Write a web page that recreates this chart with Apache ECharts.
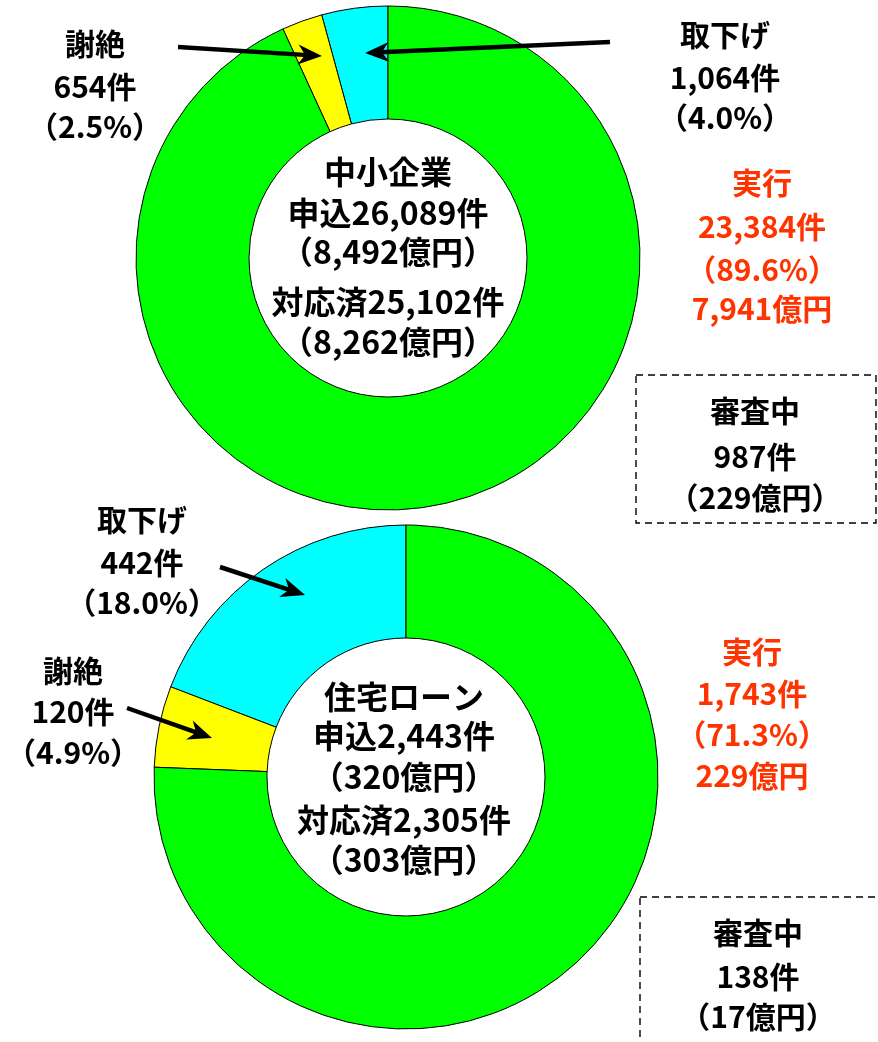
<!DOCTYPE html>
<html>
<head>
<meta charset="utf-8">
<script src="https://cdn.jsdelivr.net/npm/echarts@6/dist/echarts.min.js"></script>
<style>
html,body{margin:0;padding:0;background:#fff;}
#chart{width:878px;height:1042px;}
</style>
</head>
<body>
<div id="chart"></div>
<script>
// ---- data ----
const categories = ['取下げ', '謝絶', '実行'];
const colors = ['#00FFFF', '#FFFF00', '#00FF00'];

const smeTitle = '中小企業';
const smeCounts = [1064, 654, 23384];
const smePct = [4.0, 2.5, 89.6];
const smeApplied = 26089, smeAppliedAmt = 8492;
const smeDone = 25102, smeDoneAmt = 8262;
const smeExecAmt = 7941;
const smeReview = 987, smeReviewAmt = 229;

const homeTitle = '住宅ローン';
const homeCounts = [442, 120, 1743];
const homePct = [18.0, 4.9, 71.3];
const homeApplied = 2443, homeAppliedAmt = 320;
const homeDone = 2305, homeDoneAmt = 303;
const homeExecAmt = 229;
const homeReview = 138, homeReviewAmt = 17;

// ---- helpers ----
const fmt = v => v.toLocaleString('en-US');
const FONT = '"Noto Sans CJK JP", "Noto Sans", sans-serif';
const RED = '#FF3300';

function textLines(lines, cx, ys, color, size) {
  return lines.map((t, i) => ({
    type: 'text', x: cx, y: ys[i], silent: true,
    style: { text: t, fill: color, font: 'bold ' + size + 'px ' + FONT, textAlign: 'center', textVerticalAlign: 'middle' }
  }));
}

function arrow(x1, y1, x2, y2) {
  const dx = x2 - x1, dy = y2 - y1, L = Math.sqrt(dx*dx + dy*dy);
  const ux = dx / L, uy = dy / L, px = -uy, py = ux;
  const hl = 24, hw = 10;
  const bx = x2 - ux * hl, by = y2 - uy * hl;
  const nx = x2 - ux * (hl * 0.7), ny = y2 - uy * (hl * 0.7);
  return [
    { type: 'line', silent: true, shape: { x1: x1, y1: y1, x2: x2 - ux * 10, y2: y2 - uy * 10 }, style: { stroke: '#000', lineWidth: 4.5 } },
    { type: 'polygon', silent: true, shape: { points: [[x2, y2], [bx + px * hw, by + py * hw], [nx, ny], [bx - px * hw, by - py * hw]] }, style: { fill: '#000' } }
  ];
}

function pieData(counts) {
  return categories.map((c, i) => ({ name: c, value: counts[i], itemStyle: { color: colors[i] } }));
}

const chart = echarts.init(document.getElementById('chart'), null, { renderer: 'canvas' });

const g = [];
// dashed boxes
g.push({ type: 'rect', silent: true, shape: { x: 636, y: 375, width: 240, height: 148 }, style: { fill: 'none', stroke: '#000', lineWidth: 1.4, lineDash: [7, 5] } });
g.push({ type: 'rect', silent: true, shape: { x: 640, y: 897, width: 260, height: 200 }, style: { fill: 'none', stroke: '#000', lineWidth: 1.4, lineDash: [7, 5] } });

// top donut texts
g.push(...textLines([smeTitle, '申込' + fmt(smeApplied) + '件', '（' + fmt(smeAppliedAmt) + '億円）', '対応済' + fmt(smeDone) + '件', '（' + fmt(smeDoneAmt) + '億円）'],
  388, [172, 213, 252, 302, 342], '#000', 32));
g.push(...textLines([categories[0], fmt(smeCounts[0]) + '件', '（' + smePct[0].toFixed(1) + '%）'], 725, [35, 78, 118], '#000', 30));
g.push(...textLines([categories[1], fmt(smeCounts[1]) + '件', '（' + smePct[1].toFixed(1) + '%）'], 95, [44, 87, 127], '#000', 30));
g.push(...textLines([categories[2], fmt(smeCounts[2]) + '件', '（' + smePct[2].toFixed(1) + '%）', fmt(smeExecAmt) + '億円'], 762, [183, 227, 270, 309], RED, 30));
g.push(...textLines(['審査中', fmt(smeReview) + '件', '（' + fmt(smeReviewAmt) + '億円）'], 755, [411, 457, 498], '#000', 30));

// bottom donut texts
g.push(...textLines([homeTitle, '申込' + fmt(homeApplied) + '件', '（' + fmt(homeAppliedAmt) + '億円）', '対応済' + fmt(homeDone) + '件', '（' + fmt(homeDoneAmt) + '億円）'],
  404, [697, 736, 777, 820, 860], '#000', 32));
g.push(...textLines([categories[0], fmt(homeCounts[0]) + '件', '（' + homePct[0].toFixed(1) + '%）'], 142, [520, 563, 603], '#000', 30));
g.push(...textLines([categories[1], fmt(homeCounts[1]) + '件', '（' + homePct[1].toFixed(1) + '%）'], 73, [671, 712, 753], '#000', 30));
g.push(...textLines([categories[2], fmt(homeCounts[2]) + '件', '（' + homePct[2].toFixed(1) + '%）', fmt(homeExecAmt) + '億円'], 752, [652, 694, 735, 776], RED, 30));
g.push(...textLines(['審査中', fmt(homeReview) + '件', '（' + fmt(homeReviewAmt) + '億円）'], 758, [933, 977, 1017], '#000', 30));

// arrows
g.push(...arrow(178, 47, 322, 56));
g.push(...arrow(610, 42, 365, 53));
g.push(...arrow(220, 567, 305, 595));
g.push(...arrow(127, 708, 212, 738));

const pieCommon = {
  type: 'pie',
  clockwise: false,
  startAngle: 90,
  radius: [139, 252],
  label: { show: false },
  labelLine: { show: false },
  emphasis: { disabled: true },
  itemStyle: { borderColor: '#000', borderWidth: 1 },
  silent: true,
  z: 1
};

chart.setOption({
  animation: false,
  backgroundColor: '#fff',
  series: [
    Object.assign({}, pieCommon, { center: [388, 258], data: pieData(smeCounts) }),
    Object.assign({}, pieCommon, { center: [406, 777], data: pieData(homeCounts) })
  ],
  graphic: { elements: g.map(e => Object.assign({ z: 100 }, e)) }
});
</script>
</body>
</html>
